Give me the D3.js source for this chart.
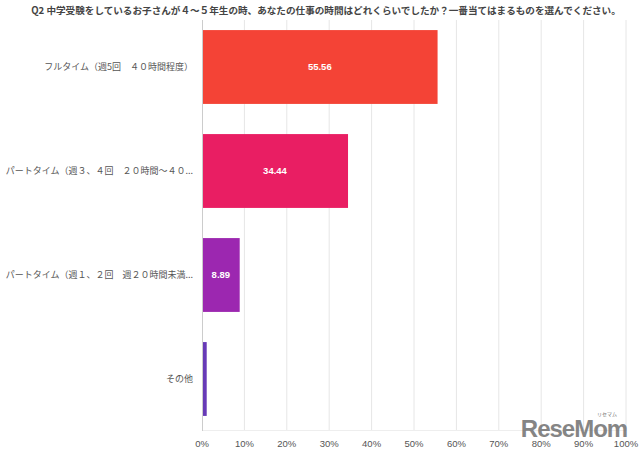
<!DOCTYPE html>
<html><head><meta charset="utf-8">
<script src="https://cdn.jsdelivr.net/npm/d3@7"></script>
<style>body{margin:0;background:#fff}svg{display:block;font-family:"Noto Sans CJK JP","Noto Sans",sans-serif}</style>
</head><body>
<svg id="c" width="640" height="454"></svg>
<script>
const title = "Q2 中学受験をしているお子さんが４～５年生の時、あなたの仕事の時間はどれくらいでしたか？一番当てはまるものを選んでください。";
const categories = ["フルタイム（週5回　４０時間程度）","パートタイム（週３、４回　２０時間～４０...","パートタイム（週１、２回　週２０時間未満...","その他"];
const values = [55.56, 34.44, 8.89, 1.11];
const colors = ["#f44336","#e91e63","#9c27b0","#673ab7"];
const ticks = [0,10,20,30,40,50,60,70,80,90,100];

const svg = d3.select("#c");
const x = d3.scaleLinear().domain([0,100]).range([202,626]);
const y = d3.scaleBand().domain(categories).range([15,431]).paddingInner(0.29).paddingOuter(0.145);

svg.append("text").attr("x",326).attr("y",14).attr("text-anchor","middle")
  .attr("font-size",9.6).attr("font-weight","bold").attr("fill","#444").text(title);

// grid
svg.append("g").selectAll("line").data(ticks.slice(1)).join("line")
  .attr("x1",d=>x(d)).attr("x2",d=>x(d)).attr("y1",20).attr("y2",431)
  .attr("stroke","#e6e6e6").attr("stroke-width",1);
svg.append("line").attr("x1",x(0)).attr("x2",x(100)).attr("y1",430.5).attr("y2",430.5).attr("stroke","#eeeeee");

// bars
svg.append("g").selectAll("rect").data(categories).join("rect")
  .attr("x",x(0)).attr("y",d=>y(d)).attr("width",(d,i)=>x(values[i])-x(0))
  .attr("height",y.bandwidth()).attr("fill",(d,i)=>colors[i]);

svg.append("line").attr("x1",x(0)+0.5).attr("x2",x(0)+0.5).attr("y1",20).attr("y2",431).attr("stroke","#cccccc");

// value labels
svg.append("g").selectAll("text").data(categories.filter((d,i)=>values[i]>5)).join("text")
  .attr("x",(d,i)=>(x(0)+x(values[i]))/2).attr("y",d=>y(d)+y.bandwidth()/2).attr("dy","0.35em")
  .attr("text-anchor","middle").attr("font-size",9.5).attr("font-weight","bold").attr("fill","#fff")
  .attr("font-family","Liberation Sans, Arial, sans-serif")
  .text((d,i)=>values[i].toFixed(2));

// category labels
svg.append("g").selectAll("text").data(categories).join("text")
  .attr("x",193).attr("y",d=>y(d)+y.bandwidth()/2).attr("dy","0.35em")
  .attr("text-anchor","end").attr("font-size",9).attr("fill","#555").text(d=>d);

// x ticks
svg.append("g").selectAll("text").data(ticks).join("text")
  .attr("x",d=>x(d)).attr("y",444).attr("dy","0.35em").attr("text-anchor","middle")
  .attr("font-size",9.5).attr("fill","#555").attr("font-family","Liberation Sans, Arial, sans-serif")
  .text(d=>d+"%");

// watermark
svg.append("text").attr("x",574).attr("y",437).attr("text-anchor","middle")
  .attr("font-size",24).attr("font-weight","bold").attr("fill","#707070").attr("opacity",0.85)
  .attr("font-family","Liberation Sans Narrow, Liberation Sans, sans-serif").attr("letter-spacing",-1)
  .text("ReseMom");
svg.append("text").attr("x",607).attr("y",416).attr("text-anchor","middle")
  .attr("font-size",5).attr("fill","#707070").text("リセマム");
</script>
</body></html>
